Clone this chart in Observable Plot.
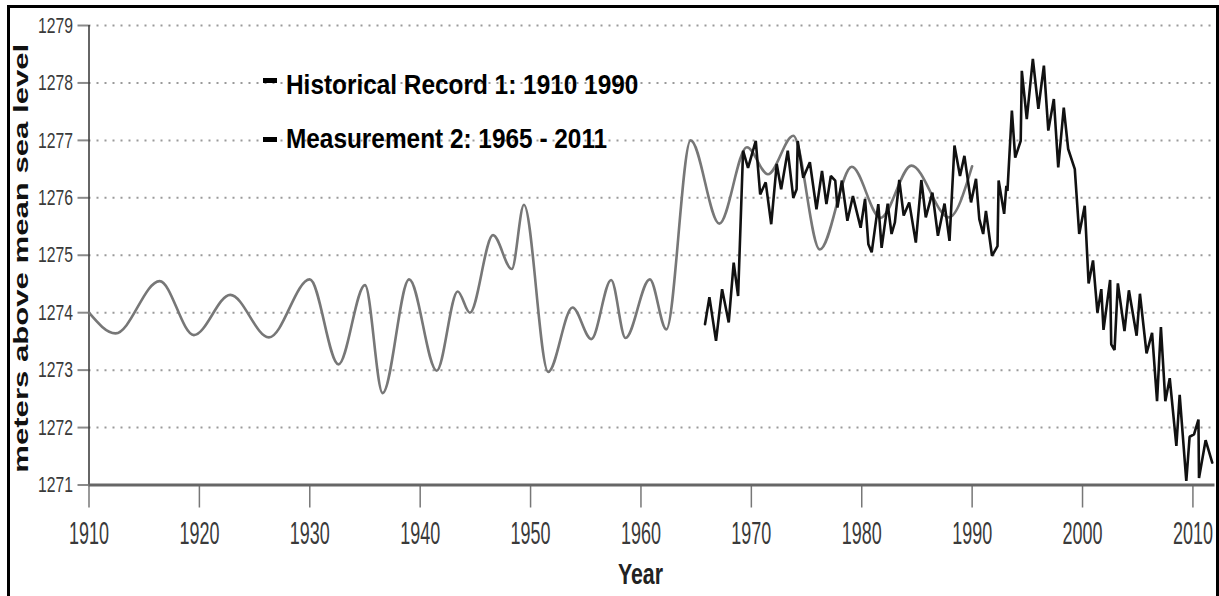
<!DOCTYPE html>
<html>
<head>
<meta charset="utf-8">
<script src="https://cdn.jsdelivr.net/npm/d3@7"></script>
<script src="https://cdn.jsdelivr.net/npm/@observablehq/plot@0.6"></script>
<style>
  html, body { margin: 0; padding: 0; background: #fff; }
  #wrap { position: relative; width: 1219px; height: 596px; overflow: hidden; }
  #border { position: absolute; left: 7px; top: 5px; width: 1212px; height: 620px; box-sizing: border-box; border: 3px solid #000; pointer-events: none; }
</style>
</head>
<body>
<div id="wrap"><div id="border"></div></div>
<script>
// ---- data ----
const tickYears = [1910, 1920, 1930, 1940, 1950, 1960, 1970, 1980, 1990, 2000, 2010];
const levelTicks = [1271, 1272, 1273, 1274, 1275, 1276, 1277, 1278, 1279];

const histYears = [1910.0, 1912.4, 1916.4, 1919.5, 1922.8, 1926.3, 1930.0, 1932.6, 1935.0, 1936.6,
  1939.0, 1941.5, 1943.4, 1944.5, 1946.6, 1948.3, 1949.4, 1951.6, 1953.8, 1955.5,
  1957.3, 1958.6, 1960.8, 1962.3, 1964.5, 1967.1, 1969.6, 1971.5, 1973.8, 1976.2,
  1979.1, 1981.7, 1984.5, 1987.9, 1990.0];
const histLevels = [1274.00, 1273.64, 1274.55, 1273.61, 1274.31, 1273.57, 1274.58, 1273.10, 1274.48, 1272.60,
  1274.58, 1272.99, 1274.37, 1274.00, 1275.35, 1274.76, 1275.88, 1272.97, 1274.09, 1273.54,
  1274.57, 1273.56, 1274.58, 1273.71, 1277.00, 1275.55, 1276.88, 1276.41, 1277.08, 1275.10,
  1276.54, 1275.65, 1276.56, 1275.66, 1276.55];

const measYears = [1965.8, 1966.2, 1966.8, 1967.35, 1967.95, 1968.4, 1968.8, 1969.25, 1969.7, 1970.4,
  1970.8, 1971.3, 1971.8, 1972.3, 1972.7, 1973.3, 1973.8, 1974.1, 1974.2, 1974.7,
  1975.3, 1975.9, 1976.4, 1976.8, 1977.2, 1977.6, 1977.8, 1978.2, 1978.7, 1979.2,
  1979.9, 1980.3, 1980.6, 1980.9, 1981.5, 1981.8, 1982.35, 1982.7, 1983.0, 1983.4,
  1983.8, 1984.3, 1984.9, 1985.4, 1985.8, 1986.4, 1986.9, 1987.5, 1987.95, 1988.4,
  1988.9, 1989.3, 1989.9, 1990.35, 1990.65, 1991.0, 1991.25, 1991.8, 1992.3, 1992.4,
  1992.9, 1993.1, 1993.2, 1993.6, 1993.9, 1994.4, 1994.5, 1994.95, 1995.5, 1996.0,
  1996.5, 1996.9, 1997.4, 1997.8, 1998.3, 1998.7, 1999.3, 1999.7, 2000.2, 2000.55,
  2000.95, 2001.35, 2001.7, 2001.9, 2002.5, 2002.6, 2002.9, 2003.2, 2003.8, 2004.2,
  2004.9, 2005.2, 2005.8, 2006.3, 2006.75, 2007.1, 2007.5, 2007.9, 2008.5, 2008.8,
  2009.4, 2009.7, 2010.1, 2010.5, 2010.55, 2011.15, 2011.75];
const measLevels = [1273.80, 1274.27, 1273.51, 1274.41, 1273.83, 1274.87, 1274.29, 1276.82, 1276.52, 1276.99,
  1276.06, 1276.27, 1275.54, 1276.59, 1276.15, 1276.82, 1276.00, 1276.15, 1276.99, 1276.35,
  1276.62, 1275.80, 1276.47, 1275.89, 1276.38, 1276.30, 1275.83, 1276.30, 1275.60, 1276.03,
  1275.48, 1275.98, 1275.19, 1275.05, 1275.89, 1275.13, 1275.90, 1275.37, 1275.57, 1276.31,
  1275.69, 1275.92, 1275.22, 1276.31, 1275.66, 1276.09, 1275.34, 1275.90, 1275.25, 1276.91,
  1276.38, 1276.73, 1275.92, 1276.33, 1275.63, 1275.37, 1275.77, 1274.99, 1275.16, 1276.30,
  1275.72, 1276.21, 1276.12, 1277.52, 1276.70, 1276.99, 1278.21, 1277.37, 1278.42, 1277.55,
  1278.30, 1277.17, 1277.72, 1276.53, 1277.57, 1276.85, 1276.50, 1275.37, 1275.86, 1274.51,
  1274.91, 1274.00, 1274.41, 1273.70, 1274.57, 1273.45, 1273.35, 1274.51, 1273.68, 1274.39,
  1273.60, 1274.33, 1273.29, 1273.65, 1272.46, 1273.75, 1272.46, 1272.86, 1271.68, 1272.57,
  1271.07, 1271.84, 1271.88, 1272.14, 1271.12, 1271.78, 1271.39];

const legendNames = ["Historical Record 1: 1910 1990", "Measurement 2: 1965 - 2011"];
const yTitle = "meters above mean sea level";
const xTitle = "Year";

// ---- build ----
const hist = histYears.map((year, i) => ({year, level: histLevels[i]}));
const meas = measYears.map((year, i) => ({year, level: measLevels[i]}));
const sans = "'Liberation Sans', Arial, sans-serif";

const svg = Plot.plot({
  width: 1219,
  height: 596,
  marginLeft: 88.5,
  marginRight: 4.5,
  marginTop: 25,
  marginBottom: 111.5,
  style: {background: "white", overflow: "visible"},
  x: {domain: [1910, 2012]},
  y: {domain: [1271, 1279]},
  marks: [
    Plot.ruleY(levelTicks.slice(1), {stroke: "#9a9a9a", strokeWidth: 2, strokeDasharray: "2,6"}),
    Plot.axisY({ticks: levelTicks, tickSize: 11, tickPadding: 5, tickFormat: d => String(d), label: null,
      stroke: "#8a8a8a", strokeWidth: 2, fill: "#3a3a3a", fontSize: 22.5, fontFamily: sans}),
    Plot.axisX({ticks: tickYears, tickSize: 23, tickPadding: 13, tickFormat: d => String(d), label: null,
      stroke: "#777", strokeWidth: 1.5, fill: "#3a3a3a", fontSize: 32, fontFamily: sans}),
    Plot.ruleX([1910], {stroke: "#333", strokeWidth: 1.5}),
    Plot.line(hist, {x: "year", y: "level", stroke: "#777", strokeWidth: 2.6, curve: "monotone-x"}),
    Plot.line(meas, {x: "year", y: "level", stroke: "#111", strokeWidth: 2.6, strokeLinejoin: "miter"}),
    Plot.ruleY([1271], {stroke: "#666", strokeWidth: 3}),
    Plot.text([yTitle], {frameAnchor: "left", textAnchor: "middle", dx: -67, dy: 3, rotate: -90,
      fontWeight: "bold", fontSize: 20, fontFamily: sans, fill: "#111"}),
    Plot.text([xTitle], {frameAnchor: "bottom", textAnchor: "middle", dx: -11.5, dy: 98.5, lineAnchor: "bottom",
      fontWeight: "bold", fontSize: 29, fontFamily: sans, fill: "#222"})
  ]
});

// The reference's lettering is tall and narrow: squeeze each label to its measured run length.
function fitLength(texts, len) {
  for (const t of texts) {
    t.setAttribute("textLength", len);
    t.setAttribute("lengthAdjust", "spacingAndGlyphs");
  }
}
const allTexts = Array.from(svg.querySelectorAll("text"));
fitLength(svg.querySelectorAll('g[aria-label="x-axis tick label"] text'), 40);
fitLength(svg.querySelectorAll('g[aria-label="y-axis tick label"] text'), 35);
fitLength(allTexts.filter(t => t.textContent === yTitle), 429);
fitLength(allTexts.filter(t => t.textContent === xTitle), 45);

// legend (overlay)
const legendBaselines = [94, 148];
const legendMarkerTops = [78, 137];
const lg = d3.select(svg).append("g").attr("aria-label", "legend");
legendNames.forEach((name, i) => {
  lg.append("rect").attr("x", 263).attr("y", legendMarkerTops[i]).attr("width", 14).attr("height", 5).attr("fill", "#000");
  lg.append("text")
    .attr("transform", `translate(286,${legendBaselines[i]}) scale(1,1.1)`)
    .attr("text-anchor", "start")
    .attr("font-family", sans).attr("font-weight", "bold").attr("font-size", 24.4).attr("fill", "#000")
    .text(name);
});

document.getElementById("wrap").prepend(svg);
svg.style.position = "absolute";
svg.style.left = "0";
svg.style.top = "0";
</script>
</body>
</html>
